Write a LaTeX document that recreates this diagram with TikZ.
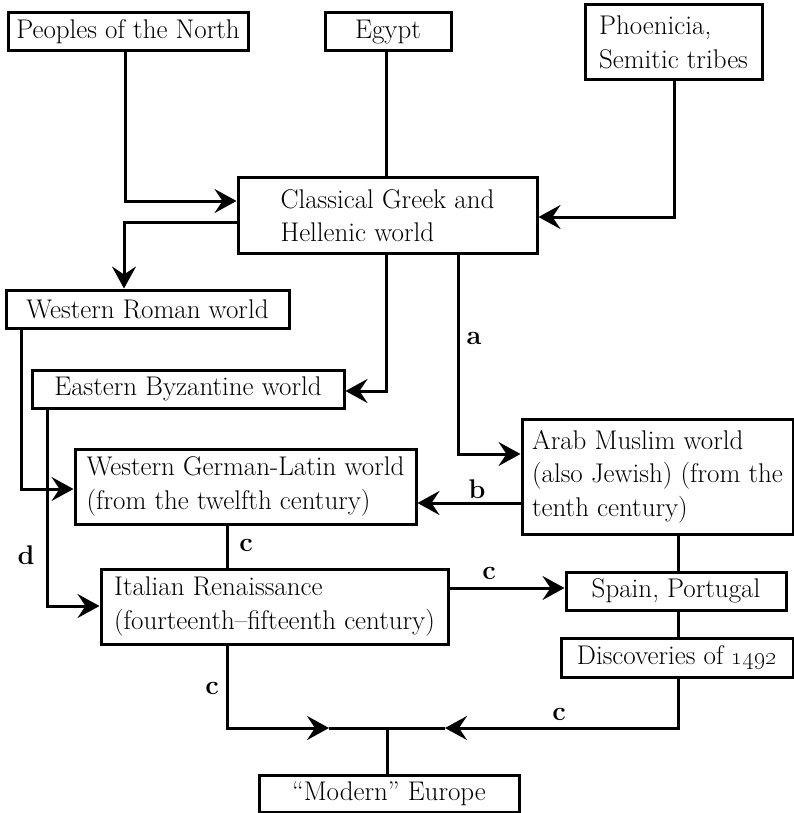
\documentclass[tikz,border=0pt]{standalone}
\usetikzlibrary{arrows.meta}
\newcommand\dfont{\fontsize{27}{33.5}\selectfont}
\begin{document}
\begin{tikzpicture}[x=1pt,y=-1pt,
  box/.style={draw, line width=3pt, inner sep=0pt, font=\dfont, align=left},
  ln/.style={line width=3pt},
  arr/.style={line width=3pt, -{Stealth[length=22pt,width=24pt,inset=8pt]}},
  lbl/.style={inner sep=0pt, font=\dfont\bfseries}]
\useasboundingbox (0,0) rectangle (794,813);
% boxes
\node[box, minimum width=240pt, minimum height=38pt] (peoples) at (128,32) {Peoples of the North};
\node[box, minimum width=126pt, minimum height=38pt] (egypt) at (388,32) {Egypt};
\node[box, minimum width=177pt, minimum height=75pt] (phoen) at (673.5,42.5) {Phoenicia,\\Semitic tribes};
\node[box, minimum width=299pt, minimum height=75pt] (classical) at (387.5,215.5) {Classical Greek and\\Hellenic world};
\node[box, minimum width=283pt, minimum height=38pt] (roman) at (147.5,309) {Western Roman world};
\node[box, minimum width=312pt, minimum height=38pt] (byz) at (188,389) {Eastern Byzantine world};
\node[box, minimum width=341pt, minimum height=75pt] (german) at (245.5,486.5) {Western German-Latin world\\(from the twelfth century)};
\node[box, minimum width=271pt, minimum height=115pt] (arab) at (657.5,476.5) {Arab Muslim world\\(also Jewish) (from the\\tenth century)};
\node[box, minimum width=347pt, minimum height=75pt] (italian) at (274.5,606.5) {Italian Renaissance\\(fourteenth--fifteenth century)};
\node[box, minimum width=220pt, minimum height=38pt] (spain) at (676,591) {Spain, Portugal};
\node[box, minimum width=232pt, minimum height=39pt] (disc) at (677,657.5) {Discoveries of \oldstylenums{1492}};
\node[box, minimum width=260pt, minimum height=37pt] (modern) at (389,793.5) {``Modern'' Europe};
% helper coordinates
\coordinate (xP) at (125,0);
\coordinate (yP) at (0,201);
\coordinate (xE) at (386,0);
\coordinate (xF) at (674,0);
\coordinate (yF) at (0,217);
\coordinate (yR) at (0,222);
\coordinate (xR) at (124,0);
\coordinate (yB) at (0,391);
\coordinate (xA) at (458,0);
\coordinate (yA) at (0,454);
\coordinate (xW) at (21,0);
\coordinate (yW) at (0,489);
\coordinate (xD) at (47,0);
\coordinate (yD) at (0,606);
\coordinate (yb) at (0,503);
\coordinate (xC) at (227,0);
\coordinate (xS) at (678,0);
\coordinate (yI) at (0,588);
\coordinate (merge) at (387,728);
\coordinate (mL) at (329,728);
\coordinate (mR) at (445,728);
% connectors
\draw[arr] (peoples.south -| xP) |- (classical.west |- yP);
\draw[ln] (egypt.south -| xE) -- (classical.north -| xE);
\draw[arr] (phoen.south -| xF) |- (classical.east |- yF);
\draw[arr] (classical.west |- yR) -| (roman.north -| xR);
\draw[arr] (classical.south -| xE) |- (byz.east |- yB);
\draw[arr] (classical.south -| xA) |- (arab.west |- yA);
\draw[arr] (roman.south -| xW) |- (german.west |- yW);
\draw[arr] (byz.south -| xD) |- (italian.west |- yD);
\draw[arr] (arab.west |- yb) -- (german.east |- yb);
\draw[ln] (german.south -| xC) -- (italian.north -| xC);
\draw[ln] (arab.south -| xS) -- (spain.north -| xS);
\draw[arr] (italian.east |- yI) -- (spain.west |- yI);
\draw[ln] (spain.south -| xS) -- (disc.north -| xS);
\draw[ln] (mL) -- (mR);
\draw[arr] (italian.south -| xC) |- (mL);
\draw[arr] (disc.south -| xS) |- (mR);
\draw[ln] (merge) -- (modern.north -| merge);
% labels
\node[lbl] (la) at (474,338) {a};
\node[lbl] (lb) at (477,489) {b};
\node[lbl] (lc1) at (246,545) {c};
\node[lbl] (ld) at (26,555) {d};
\node[lbl] (lc2) at (489,573) {c};
\node[lbl] (lc3) at (212,688) {c};
\node[lbl] (lc4) at (559,714) {c};
\end{tikzpicture}
\end{document}
